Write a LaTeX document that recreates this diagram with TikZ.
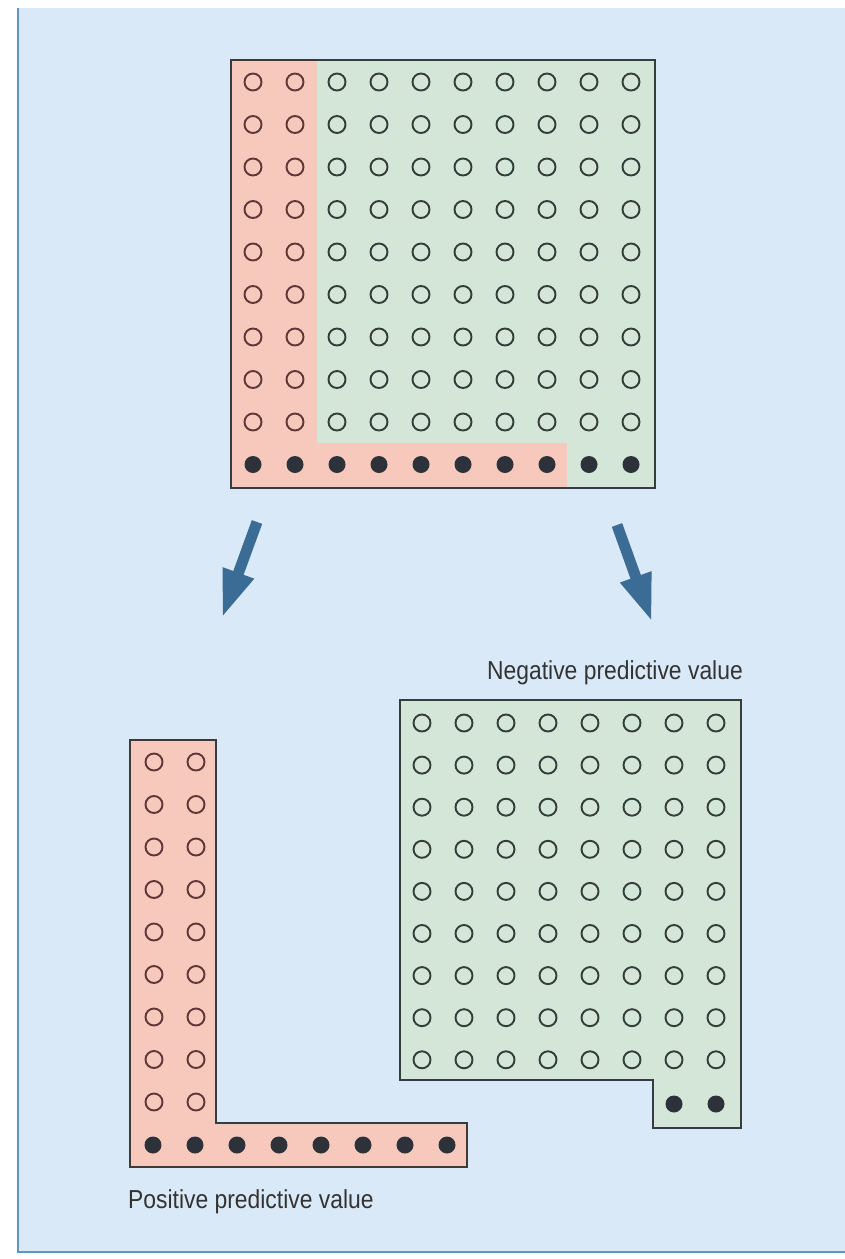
\documentclass[tikz,border=0pt]{standalone}
\usepackage{fontspec}
\setmainfont{Liberation Sans}
\usetikzlibrary{arrows.meta}
\definecolor{bgblue}{RGB}{218,233,247}
\definecolor{edgeblue}{RGB}{90,150,200}
\definecolor{redfill}{RGB}{247,200,188}
\definecolor{greenfill}{RGB}{212,230,216}
\definecolor{boxline}{RGB}{55,60,62}
\definecolor{redring}{RGB}{95,55,55}
\definecolor{greenring}{RGB}{50,62,58}
\definecolor{dotcol}{RGB}{45,50,58}
\definecolor{arrowcol}{RGB}{58,108,150}
\tikzset{
  boxedge/.style={draw=boxline, line width=1.4pt},
  ringr/.style={circle, draw=redring, line width=1.9pt, minimum size=17pt, inner sep=0pt},
  ringg/.style={circle, draw=greenring, line width=1.9pt, minimum size=17pt, inner sep=0pt},
  dotc/.style={circle, fill=dotcol, minimum size=17pt, inner sep=0pt},
  bigarrow/.style={draw=arrowcol, line width=11pt, -{Triangle[width=30pt 0, length=48pt 0]}},
  lbl/.style={font=\fontsize{26}{30}\selectfont, text=black!80, xscale=0.88, inner sep=0pt}
}
\begin{document}
\begin{tikzpicture}[x=1pt,y=-1pt]
\useasboundingbox (0,0) rectangle (845,1259);
\fill[white] (0,0) rectangle (845,1259);
\fill[bgblue] (18,8) rectangle (845,1252);
\draw[edgeblue, line width=2pt] (18,8) -- (18,1252) -- (845,1252);

% ---- top grid ----
\fill[redfill] (231,60) -- (317,60) -- (317,443) -- (567,443) -- (567,488) -- (231,488) -- cycle;
\fill[greenfill] (317,60) -- (655,60) -- (655,488) -- (567,488) -- (567,443) -- (317,443) -- cycle;
\draw[boxedge] (231,60) rectangle (655,488);
\foreach \j in {0,...,8}{
  \foreach \i in {0,1}{
    \node[ringr] (t-\i-\j) at ({253+42*\i},{82+42.5*\j}) {};
  }
  \foreach \i in {2,...,9}{
    \node[ringg] (t-\i-\j) at ({253+42*\i},{82+42.5*\j}) {};
  }
}
\foreach \i in {0,...,9}{
  \node[dotc] (t-\i-9) at ({253+42*\i},464.5) {};
}

% ---- arrows ----
\coordinate (la1) at (257,522);
\coordinate (la2) at (222,618);
\coordinate (ra1) at (617,525);
\coordinate (ra2) at (652,622);
\draw[bigarrow] (la1) -- (la2);
\draw[bigarrow] (ra1) -- (ra2);

% ---- positive predictive value ----
\fill[redfill] (130,740) -- (216,740) -- (216,1123) -- (467,1123) -- (467,1167) -- (130,1167) -- cycle;
\draw[boxedge] (130,740) -- (216,740) -- (216,1123) -- (467,1123) -- (467,1167) -- (130,1167) -- cycle;
\foreach \j in {0,...,8}{
  \foreach \i in {0,1}{
    \node[ringr] (p-\i-\j) at ({154+42*\i},{762+42.5*\j}) {};
  }
}
\foreach \i in {0,...,7}{
  \node[dotc] (p-\i-9) at ({153+42*\i},1145) {};
}
\node[lbl, anchor=base west] (ppv) at (128,1208) {Positive predictive value};

% ---- negative predictive value ----
\fill[greenfill] (400,700) -- (741,700) -- (741,1128) -- (653,1128) -- (653,1080) -- (400,1080) -- cycle;
\draw[boxedge] (400,700) -- (741,700) -- (741,1128) -- (653,1128) -- (653,1080) -- (400,1080) -- cycle;
\foreach \j in {0,...,8}{
  \foreach \i in {0,...,7}{
    \node[ringg] (n-\i-\j) at ({422+42*\i},{723+42.1*\j}) {};
  }
}
\node[dotc] (n-6-9) at (674,1104) {};
\node[dotc] (n-7-9) at (716,1104) {};
\node[lbl, anchor=base] (npv) at (615,679) {Negative predictive value};
\end{tikzpicture}
\end{document}
